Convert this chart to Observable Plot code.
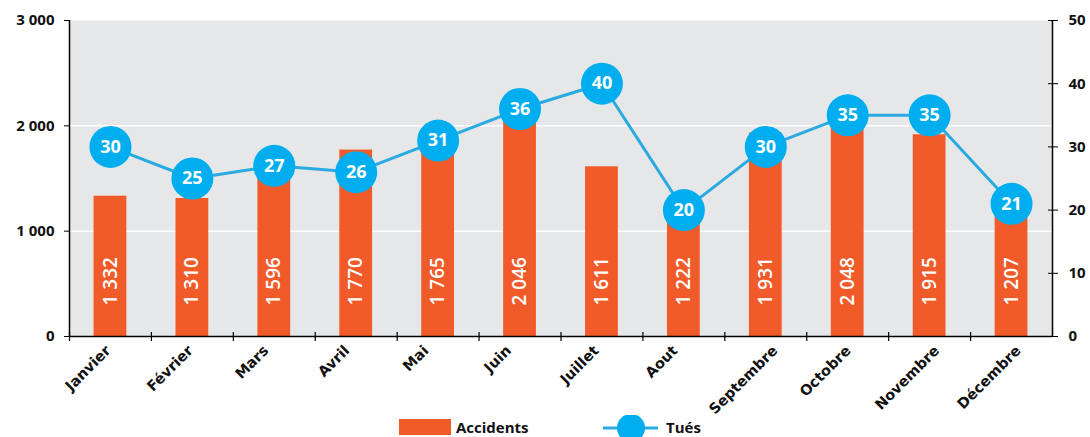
<!DOCTYPE html>
<html><head><meta charset="utf-8">
<script src="https://cdn.jsdelivr.net/npm/d3@7"></script>
<script src="https://cdn.jsdelivr.net/npm/@observablehq/plot@0.6"></script>
<style>
body{margin:0;background:#fff;font-family:"Open Sans",sans-serif;}
#legend{position:relative;height:22px;width:1090px;}
.lg{position:absolute;font-weight:700;font-size:15px;color:#111;line-height:16px;}
</style></head><body>
<div id="chart"></div>
<div id="legend">
  <div style="position:absolute;left:399px;top:4px;width:52px;height:16px;background:#f15a29"></div>
  <div class="lg" style="left:456px;top:4px">Accidents</div>
  <svg style="position:absolute;left:602px;top:0" width="58" height="22"><line x1="1" y1="13" x2="56" y2="13" stroke="#29abe2" stroke-width="3"/><circle cx="29" cy="13" r="14" fill="#00aeef"/></svg>
  <div class="lg" style="left:666px;top:4px">Tués</div>
</div>
<script>
const mois = ["Janvier","Février","Mars","Avril","Mai","Juin","Juillet","Aout","Septembre","Octobre","Novembre","Décembre"];
const accidents = [1332,1310,1596,1770,1765,2046,1611,1222,1931,2048,1915,1207];
const tues = [30,25,27,26,31,36,40,20,30,35,35,21];
const ticksGauche = [0,1000,2000,3000];
const ticksDroite = [0,10,20,30,40,50];

const data = mois.map((m,i)=>({mois:m, accidents:accidents[i], tues:tues[i]}));
const W=1090, H=415, mL=69, mR=38, mT=20, mB=79;
const step = (W-mL-mR)/mois.length;
const ratio = 3000/50;
const upp = 3000/(H-mT-mB); // units per pixel
const fmt = d3.formatLocale({thousands:"\u00a0", grouping:[3], decimal:","}).format(",d");

const moisFont = "DejaVu Sans", moisSize = 14.5;
const ctx = document.createElement("canvas").getContext("2d");
ctx.font = `bold ${moisSize}px '${moisFont}'`;
const moisMarks = mois.map(m => {
  const ext = ctx.measureText(m).width * Math.SQRT1_2;
  return Plot.text([m], {x:d=>d, frameAnchor:"bottom", text:d=>d, rotate:-45, textAnchor:"end",
    dx:-19 + ext/2, dy:15, fontFamily:moisFont, fontSize:moisSize, fontWeight:700, fill:"#111"});
});

const plot = Plot.plot({
  width:W, height:H, marginLeft:mL, marginRight:mR, marginTop:mT, marginBottom:mB,
  style:{fontFamily:"Open Sans, sans-serif", background:"#fff", overflow:"visible"},
  x:{type:"band", domain:mois, paddingInner:0.6, paddingOuter:0.3, round:false, label:null, axis:null},
  y:{domain:[0,3000], label:null, axis:null},
  marks:[
    Plot.frame({fill:"#e6e7e8", stroke:"none"}),
    Plot.ruleY([1000,2000], {stroke:"#fff", strokeWidth:1.5}),
    Plot.barY(data, {x:"mois", y:"accidents", fill:"#f15a29"}),
    Plot.text(data, {x:"mois", y:()=>0, text:d=>fmt(d.accidents), rotate:-90, textAnchor:"start", dy:-31, fill:"#fff", fontSize:19, fontWeight:600}),
    Plot.ruleY([0], {stroke:"#000", strokeWidth:1.5}),
    Plot.ruleX([mois[0]], {dx:-step/2, stroke:"#000", strokeWidth:1.5}),
    Plot.ruleX([mois[mois.length-1]], {dx:step/2, stroke:"#000", strokeWidth:1.5}),
    Plot.ruleX(mois, {x:d=>d, dx:-step/2, y1:-5*upp, y2:4*upp, stroke:"#000", strokeWidth:1.2}),
    Plot.axisY(ticksGauche, {anchor:"left", tickSize:5, tickFormat:fmt, fontSize:15, fontWeight:700, fill:"#111", tickPadding:10, label:null}),
    Plot.axisY(ticksDroite.map(t=>t*ratio), {anchor:"right", tickSize:10, dx:-5, tickFormat:d=>d/ratio, fontSize:15, fontWeight:700, fill:"#111", tickPadding:11, label:null}),
    ...moisMarks,
    Plot.lineY(data, {x:"mois", y:d=>d.tues*ratio, stroke:"#29abe2", strokeWidth:3}),
    Plot.dot(data, {x:"mois", y:d=>d.tues*ratio, r:21, fill:"#00aeef"}),
    Plot.text(data, {x:"mois", y:d=>d.tues*ratio, text:"tues", fill:"#fff", fontSize:18, fontWeight:700})
  ]
});
document.getElementById("chart").appendChild(plot);
</script>
</body></html>
